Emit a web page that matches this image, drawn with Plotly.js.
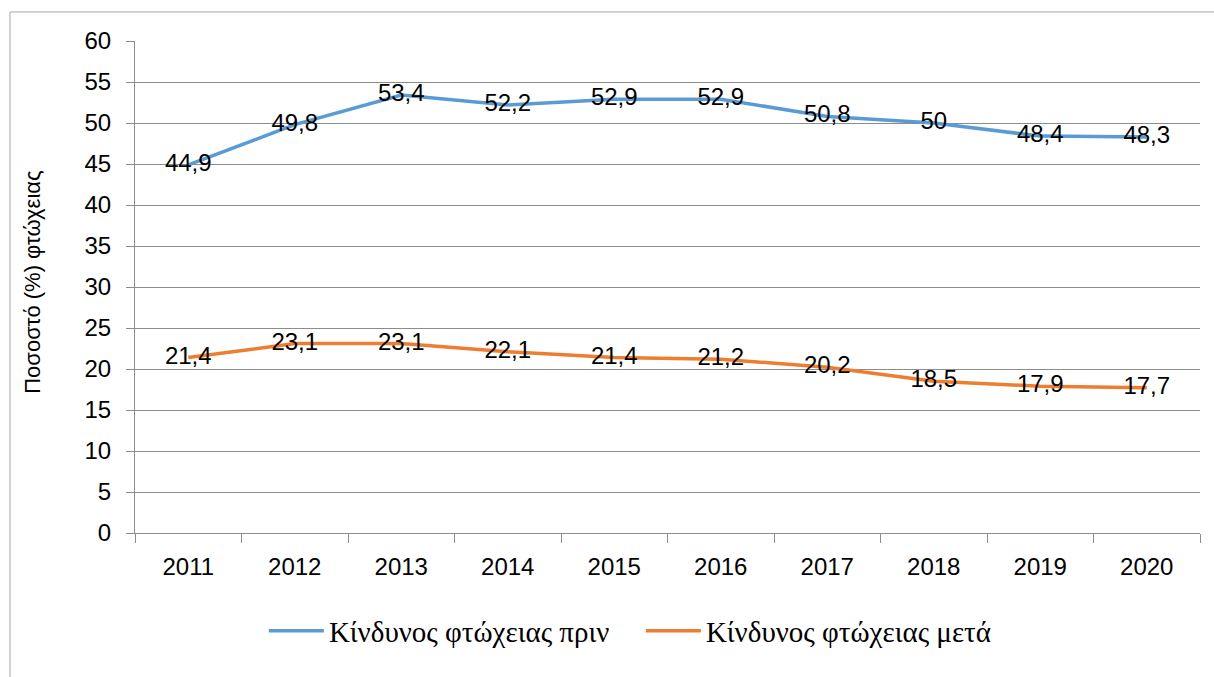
<!DOCTYPE html>
<html>
<head>
<meta charset="utf-8">
<script src="https://cdn.plot.ly/plotly-3.0.1.min.js"></script>
<style>html,body{margin:0;padding:0;background:#fff;}#chart{width:1214px;height:677px;}</style>
</head>
<body>
<div id="chart"></div>
<script>
const years = ['2011','2012','2013','2014','2015','2016','2017','2018','2019','2020'];
const riskBefore = [44.9, 49.8, 53.4, 52.2, 52.9, 52.9, 50.8, 50, 48.4, 48.3];
const riskAfter = [21.4, 23.1, 23.1, 22.1, 21.4, 21.2, 20.2, 18.5, 17.9, 17.7];
const nameBefore = 'Κίνδυνος φτώχειας πριν';
const nameAfter = 'Κίνδυνος φτώχειας μετά';
const yTitle = 'Ποσοστό (%) φτώχειας';

const fmt = v => String(v).replace('.', ',');
const sans = 'Liberation Sans, Arial, sans-serif';
const serif = 'Liberation Serif, Times New Roman, serif';
const gridCol = '#8c8c8c';

const traces = [
  {x: years, y: riskBefore, name: nameBefore, type: 'scatter', mode: 'lines+text',
   line: {color: '#5B9BD5', width: 3.5}, text: riskBefore.map(fmt), textposition: 'middle center',
   textfont: {family: sans, size: 24, color: '#000'}, hoverinfo: 'x+y', cliponaxis: false},
  {x: years, y: riskAfter, name: nameAfter, type: 'scatter', mode: 'lines+text',
   line: {color: '#ED7D31', width: 3.5}, text: riskAfter.map(fmt), textposition: 'middle center',
   textfont: {family: sans, size: 24, color: '#000'}, hoverinfo: 'x+y', cliponaxis: false}
];

const layout = {
  width: 1214, height: 677,
  margin: {l: 135, r: 14, t: 41, b: 144},
  paper_bgcolor: '#fff', plot_bgcolor: '#fff',
  showlegend: true,
  legend: {orientation: 'h', x: 0.475, xanchor: 'center', y: -0.199, yanchor: 'middle',
    font: {family: serif, size: 29, color: '#000'}, itemwidth: 55, tracegroupgap: 0,
    entrywidth: 307, entrywidthmode: 'pixels'},
  xaxis: {type: 'category', range: [-0.5, 9.5], showgrid: false, showline: true, linecolor: gridCol, linewidth: 1,
    ticks: 'outside', tickson: 'boundaries', ticklen: 9, tickcolor: gridCol, tickwidth: 1,
    tickfont: {family: sans, size: 24, color: '#000'}, ticklabelstandoff: 12, fixedrange: true},
  yaxis: {range: [0, 60], dtick: 5, tick0: 0, showgrid: true, gridcolor: gridCol, gridwidth: 1,
    showline: true, linecolor: gridCol, linewidth: 1, zeroline: false,
    ticks: 'outside', ticklen: 8, tickcolor: gridCol, tickwidth: 1,
    tickfont: {family: sans, size: 24, color: '#000'}, ticklabelstandoff: 10, fixedrange: true},
  annotations: [
    {text: yTitle, xref: 'paper', yref: 'paper', x: -0.097, y: 0.51, textangle: -90, showarrow: false,
     xanchor: 'center', yanchor: 'middle', font: {family: sans, size: 22, color: '#000'}}
  ],
  shapes: [
    {type: 'rect', xref: 'paper', yref: 'paper', x0: -0.1174, x1: 1.2, y0: -0.6, y1: 1.059,
     line: {color: '#a6a6a6', width: 1}, fillcolor: 'rgba(0,0,0,0)', layer: 'below'}
  ]
};

Plotly.newPlot('chart', traces, layout, {displayModeBar: false, staticPlot: true});
</script>
</body>
</html>
